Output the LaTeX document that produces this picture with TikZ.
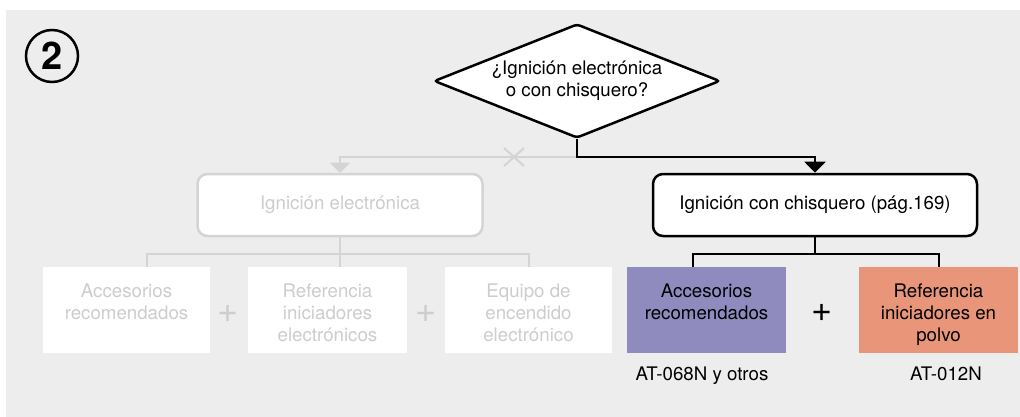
\documentclass[tikz,border=0pt]{standalone}
\usepackage{fontspec}
\setmainfont{TeX Gyre Heros}
\usetikzlibrary{arrows.meta, shapes.geometric, shapes.misc, calc}

\definecolor{panel}{HTML}{EDEDED}
\definecolor{faded}{HTML}{D4D4D4}
\definecolor{fadedtext}{HTML}{CDCDCD}
\definecolor{lila}{HTML}{8F8BBF}
\definecolor{salmon}{HTML}{E8957A}

\newcommand{\boxlines}[1]{\parbox[c][56pt][t]{158pt}{\centering\strut #1}}

\tikzset{
  every node/.style={font=\fontsize{18.7}{22}\selectfont},
  decision/.style={diamond, draw, fill=white, line width=2.5pt, rounded corners=3pt,
    minimum width=286pt, minimum height=114pt, inner sep=0pt, aspect=2.5, align=center},
  fadedbox/.style={draw=faded, line width=2.5pt, rounded corners=10pt, fill=white,
    text=fadedtext, minimum width=285pt, minimum height=62pt},
  choicebox/.style={draw, line width=2.5pt, rounded corners=10pt, fill=white,
    minimum width=324pt, minimum height=62pt},
  item/.style={minimum width=167pt, minimum height=86pt, inner sep=0pt},
  plus/.style={font=\fontsize{36}{36}\selectfont, inner sep=0pt},
  link/.style={line width=2pt},
  fadedlink/.style={draw=faded, line width=2pt}
}

\begin{document}
\begin{tikzpicture}[x=1pt, y=-1pt]
\fill[white] (0,0) rectangle (1020,417);
\useasboundingbox (0,0) rectangle (1020,417);
\fill[panel] (6,10) rectangle (1020,417);

\node[circle, draw, line width=2.5pt, minimum size=52pt, inner sep=0pt,
  font=\fontsize{38}{38}\selectfont\bfseries] (num) at (52,56) {2};

\node[decision] (q) at (577,81) {¿Ignición electrónica\\o con chisquero?};

\node[fadedbox] (elec) at (340,205) {Ignición electrónica};
\node[choicebox] (chis) at (815,205) {Ignición con chisquero (pág.169)};

% faded branch
\node[item, fill=white, text=fadedtext] (acc1) at (126.5,310) {\boxlines{Accesorios\\recomendados}};
\node[item, minimum width=159pt, fill=white, text=fadedtext] (ref1) at (327.5,310) {\boxlines{Referencia\\iniciadores\\electrónicos}};
\node[item, fill=white, text=fadedtext] (equ1) at (528.5,310) {\boxlines{Equipo de\\encendido\\electrónico}};
\node[plus, text=fadedtext] (p1) at (228,314) {+};
\node[plus, text=fadedtext] (p2) at (426,314) {+};

% chosen branch
\node[item, minimum width=159pt, fill=lila] (acc2) at (706.5,310) {\boxlines{Accesorios\\recomendados}};
\node[item, minimum width=159pt, fill=salmon] (ref2) at (938.5,310) {\boxlines{Referencia\\iniciadores en\\polvo}};
\node[plus] (p3) at (822,313) {+};

\node[anchor=base] (acc2code) at (702,380) {AT-068N y otros};
\node[anchor=base] (ref2code) at (946,380) {AT-012N};

\coordinate (fork) at ($(q.south)+(0,18)$);
\draw[fadedlink, -{Triangle[width=20pt,length=10pt]}] (fork) -| (elec.north);
\node[cross out, draw=faded, line width=2pt, minimum width=18pt, minimum height=16pt, inner sep=0pt] (nope) at (514,157) {};
\draw[link, -{Triangle[width=21pt,length=11pt]}] (q.south) -- (fork) -| (chis.north);

\coordinate (ejoin) at ($(elec.south)+(0,17)$);
\draw[fadedlink] (elec.south) -- (elec.south |- ref1.north);
\draw[fadedlink] ([xshift=20pt]acc1.north) |- (ejoin) -| (equ1.north);

\coordinate (cjoin) at ($(chis.south)+(0,17)$);
\draw[link] (chis.south) -- (cjoin);
\draw[link] ([xshift=-14pt]acc2.north) |- (cjoin) -| (ref2.north);

\end{tikzpicture}
\end{document}
